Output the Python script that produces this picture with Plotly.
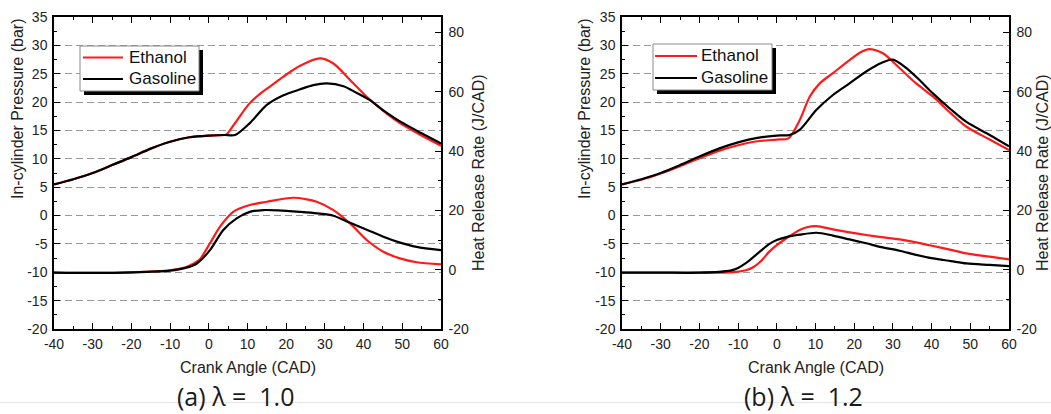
import plotly.graph_objects as go

W, H = 1051, 414
RED = "#ff1a1a"
BLACK = "#000000"
FONT = "Liberation Sans, Arial, sans-serif"
TXT = "#222222"

# ---------------- data: (a) lambda = 1.0 ----------------
a_eth_p_ca = [-40, -35, -30, -25, -20, -15, -10, -5, 0, 4, 4.6, 7.2, 10.3, 12.8, 15.5, 19.3, 23.6, 28.7, 32.2, 36.5, 40.8, 45, 49.4, 55, 60]
a_eth_p = [5.5, 6.4, 7.5, 8.9, 10.3, 11.8, 13.0, 13.8, 14.1, 14.2, 14.3, 16.7, 19.6, 21.2, 22.6, 24.5, 26.4, 27.7, 26.8, 23.9, 20.95, 18.5, 16.3, 14.1, 12.3]
a_gas_p_ca = [-40, -35, -30, -25, -20, -15, -10, -5, 0, 4, 6.8, 10.6, 15, 19.3, 23.6, 27, 30.5, 34.8, 38, 41.7, 45, 49.4, 55, 60]
a_gas_p = [5.5, 6.4, 7.5, 8.9, 10.3, 11.8, 13.0, 13.8, 14.1, 14.2, 14.2, 16.3, 19.5, 21.2, 22.25, 23.0, 23.3, 22.8, 21.7, 20.3, 18.6, 16.6, 14.5, 12.7]
a_eth_h_ca = [-40, -30, -20, -10, -6, -4, -2.3, 0.3, 2.9, 6.3, 10.6, 15, 21.8, 25, 27.9, 32.2, 36.5, 40.8, 45.1, 49.4, 53.7, 60]
a_eth_h = [-1.0, -1.1, -0.9, -0.2, 0.8, 2.0, 3.5, 8.9, 14.5, 19.5, 21.8, 22.9, 24.25, 23.8, 22.9, 20.1, 15.6, 10.0, 6.05, 3.8, 2.5, 1.8]
a_gas_h_ca = [-40, -30, -20, -10, -6, -3.1, 0.3, 3.75, 7.2, 10.6, 14.1, 18, 23.6, 28, 32.2, 36.5, 40.8, 45.1, 49, 53.7, 60]
a_gas_h = [-1.0, -1.1, -0.9, -0.3, 0.6, 2.1, 6.6, 13.4, 17.3, 19.5, 20.1, 20.0, 19.5, 19.0, 18.2, 15.8, 13.5, 11.1, 9.3, 7.7, 6.6]

# ---------------- data: (b) lambda = 1.2 ----------------
b_eth_p_ca = [-40, -35, -30, -25, -20, -15, -10, -5, 0, 3, 5.9, 8.5, 11.1, 14.5, 18.8, 22, 23.9, 27.4, 31.7, 36, 40.4, 45, 49, 55, 60]
b_eth_p = [5.5, 6.3, 7.4, 8.7, 10.1, 11.4, 12.4, 13.1, 13.4, 13.6, 16.8, 20.95, 23.3, 25.1, 27.4, 28.9, 29.35, 28.6, 26.0, 23.3, 20.95, 18.0, 15.65, 13.4, 11.55]
b_gas_p_ca = [-40, -35, -30, -25, -20, -15, -10, -5, 0, 3.3, 5.9, 10.2, 14.5, 18.8, 23.1, 27, 30, 33.5, 37, 40.4, 45, 49, 55, 60]
b_gas_p = [5.5, 6.4, 7.5, 8.9, 10.4, 11.8, 12.9, 13.7, 14.1, 14.2, 15.1, 18.6, 21.25, 23.3, 25.4, 26.9, 27.5, 26.0, 23.8, 21.5, 18.7, 16.5, 14.2, 12.2]
b_eth_h_ca = [-40, -30, -20, -11, -8, -6, -4, -2, 0, 2.5, 5.9, 8, 10.2, 14.5, 18.8, 23.1, 27, 31.7, 36, 40.4, 45, 49, 55, 60]
b_eth_h = [-1.0, -1.0, -1.0, -0.8, -0.2, 0.9, 3.0, 6.0, 8.3, 10.6, 13.4, 14.4, 14.7, 13.6, 12.6, 11.7, 11.0, 10.2, 9.2, 8.0, 6.7, 5.5, 4.4, 3.5]
b_gas_h_ca = [-40, -30, -20, -12, -10, -8, -6, -4, -2, 0, 2.5, 5.9, 10.2, 14.5, 18.8, 23.1, 27, 31.7, 36, 40.4, 45, 49, 55, 60]
b_gas_h = [-1.0, -1.0, -1.0, -0.3, 0.6, 2.2, 4.3, 6.5, 8.6, 10.0, 11.0, 11.8, 12.45, 11.5, 10.2, 8.9, 7.6, 6.4, 5.0, 3.8, 2.9, 2.1, 1.6, 1.2]

x_ticks = [-40, -30, -20, -10, 0, 10, 20, 30, 40, 50, 60]
p_ticks = [-20, -15, -10, -5, 0, 5, 10, 15, 20, 25, 30, 35]
h_ticks = [-20, 0, 20, 40, 60, 80]
series_names = ["Ethanol", "Gasoline"]
captions = ["(a) λ =\u00a0 1.0", "(b) λ =\u00a0 1.2"]
x_title = "Crank Angle (CAD)"
yl_title = "In-cylinder Pressure (bar)"
yr_title = "Heat Release Rate (J/CAD)"


def fx(p):
    return p / W


def fy(p):
    return 1 - p / H


def labels(vals):
    return [str(v) for v in vals]  # plain hyphen-minus like the reference


fig = go.Figure()

panels = [
    dict(xa="x", curves=[(a_eth_h_ca, a_eth_h, RED, "y2"), (a_gas_h_ca, a_gas_h, BLACK, "y2"),
                         (a_eth_p_ca, a_eth_p, RED, "y"), (a_gas_p_ca, a_gas_p, BLACK, "y")]),
    dict(xa="x2", curves=[(b_eth_h_ca, b_eth_h, RED, "y4"), (b_gas_h_ca, b_gas_h, BLACK, "y4"),
                          (b_eth_p_ca, b_eth_p, RED, "y3"), (b_gas_p_ca, b_gas_p, BLACK, "y3")]),
]

for pn in panels:
    for xs, ys, col, ya in pn["curves"]:
        fig.add_trace(go.Scatter(
            x=xs, y=ys, mode="lines", xaxis=pn["xa"], yaxis=ya,
            line=dict(color=col, width=2.2, shape="spline", smoothing=0.8),
            showlegend=False, hoverinfo="skip"))

y_dom = [fy(329), fy(17)]
x_doms = [[fx(54), fx(441)], [fx(622), fx(1009)]]

tickfont = dict(family=FONT, size=14, color=TXT)
common_axis = dict(showline=True, linecolor="#000", linewidth=1.5, zeroline=False, automargin=False,
                   tickfont=tickfont, ticks="inside", tickcolor="#000", tickwidth=1.3)

layout = dict(
    width=W, height=H, margin=dict(l=0, r=0, t=0, b=0, autoexpand=False),
    plot_bgcolor="white", paper_bgcolor="white", showlegend=False,
)

for i, (xa, yl, yr) in enumerate([("xaxis", "yaxis", "yaxis2"), ("xaxis2", "yaxis3", "yaxis4")]):
    xname = "x" if i == 0 else "x2"
    ylname = "y" if i == 0 else "y3"
    layout[xa] = dict(common_axis, domain=x_doms[i], range=[-40, 60], anchor=ylname,
                      tickvals=x_ticks, ticktext=labels(x_ticks), ticklen=6, mirror="ticks", showgrid=False,
                      minor=dict(ticks="inside", ticklen=3, dtick=5, tick0=-40, tickcolor="#000", showgrid=False),
                      ticklabelstandoff=1)
    layout[yl] = dict(common_axis, domain=y_dom, range=[-20, 35], anchor=xname,
                      tickvals=p_ticks, ticktext=labels(p_ticks), ticklen=6, showgrid=True, griddash="7px,4px",
                      gridcolor="#999999", gridwidth=1.2,
                      minor=dict(ticks="inside", ticklen=3, dtick=2.5, tick0=-20, tickcolor="#000", showgrid=False),
                      ticklabelstandoff=2)
    layout[yr] = dict(common_axis, domain=y_dom, range=[-20, 85.2], anchor=xname,
                      overlaying=ylname, side="right", tickvals=h_ticks, ticktext=labels(h_ticks), ticklen=6,
                      showgrid=False,
                      minor=dict(ticks="inside", ticklen=3, dtick=10, tick0=-20, tickcolor="#000", showgrid=False),
                      ticklabelstandoff=3)

fig.update_layout(**layout)

shapes = []
annotations = []

# faint separator line near the bottom
shapes.append(dict(type="line", xref="paper", yref="paper", x0=0, x1=1, y0=fy(402.7), y1=fy(402.7),
                   line=dict(color="#e2e2e2", width=1), layer="below"))

legend_boxes = [
    dict(box=(80, 46, 199, 91), line=(83, 123), ys=(57.5, 79), tx=127),
    dict(box=(653, 44, 772, 90), line=(655, 697), ys=(56, 78), tx=699),
]
for lb in legend_boxes:
    x0, y0, x1, y1 = lb["box"]
    shapes.append(dict(type="rect", xref="paper", yref="paper", x0=fx(x0 + 4), x1=fx(x1 + 4),
                       y0=fy(y1 + 4), y1=fy(y0 + 4), fillcolor="#000", line=dict(width=0), layer="above"))
    shapes.append(dict(type="rect", xref="paper", yref="paper", x0=fx(x0), x1=fx(x1),
                       y0=fy(y1), y1=fy(y0), fillcolor="#fff", line=dict(color="#8a8a8a", width=1), layer="above"))
    for name, col, yy in zip(series_names, [RED, BLACK], lb["ys"]):
        shapes.append(dict(type="line", xref="paper", yref="paper", x0=fx(lb["line"][0]), x1=fx(lb["line"][1]),
                           y0=fy(yy), y1=fy(yy), line=dict(color=col, width=2.2), layer="above"))
        annotations.append(dict(text=name, xref="paper", yref="paper", x=fx(lb["tx"]), y=fy(yy),
                                xanchor="left", yanchor="middle", showarrow=False,
                                font=dict(family=FONT, size=17, color="#111")))

# axis titles and captions
for cx_left, cx_right, cx_mid, cap_x, cap in [(17, 478, 247.5, 235, captions[0]), (584, 1042, 815.5, 803.5, captions[1])]:
    annotations.append(dict(text=yl_title, xref="paper", yref="paper", x=fx(cx_left), y=fy(109),
                            textangle=-90, showarrow=False, xanchor="center", yanchor="middle",
                            font=dict(family=FONT, size=16, color=TXT)))
    annotations.append(dict(text=yr_title, xref="paper", yref="paper", x=fx(cx_right), y=fy(173),
                            textangle=-90, showarrow=False, xanchor="center", yanchor="middle",
                            font=dict(family=FONT, size=16, color=TXT)))
    annotations.append(dict(text=x_title, xref="paper", yref="paper", x=fx(cx_mid), y=fy(367),
                            showarrow=False, xanchor="center", yanchor="middle",
                            font=dict(family=FONT, size=16, color=TXT)))
    annotations.append(dict(text=cap, xref="paper", yref="paper", x=fx(cap_x), y=0,
                            showarrow=False, xanchor="center", yanchor="bottom", borderpad=0,
                            font=dict(family="Open Sans, sans-serif", size=25, color="#1a1a1a")))

fig.update_layout(shapes=shapes, annotations=annotations)
fig.write_html("out.html")
